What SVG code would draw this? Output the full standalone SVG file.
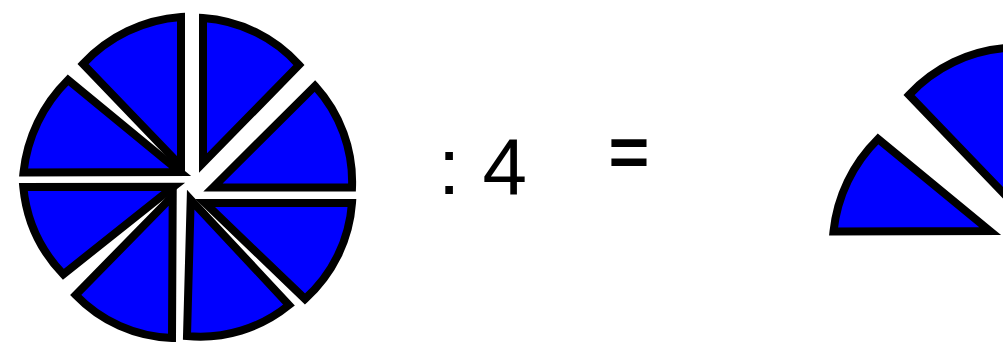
<svg xmlns="http://www.w3.org/2000/svg" width="1003" height="342" viewBox="0 0 1003 342">
<style>
.s{fill:#0000ff;stroke:#000;stroke-width:8;stroke-linejoin:miter;stroke-miterlimit:10}
.t{font-family:"Liberation Sans",Arial,sans-serif;fill:#000}
</style>
<rect width="1003" height="342" fill="#fff"/>
<g id="circle">
<path class="s" d="M181,166 L181,17 A148,148 0 0 0 83,64 Z"/>
<path class="s" d="M180,172 L68,80 A152,152 0 0 0 23.5,172.5 Z"/>
<path class="s" d="M203,163 L203,18 A142,142 0 0 1 299,65 Z"/>
<path class="s" d="M213,187.5 L315,86 A142,142 0 0 1 352,187.5 Z"/>
<path class="s" d="M205,203 L352,203 A143,143 0 0 1 305,299 Z"/>
<path class="s" d="M190.7,199.7 L289,305 A140,140 0 0 1 187,336 Z"/>
<path class="s" d="M172.7,196 L172,338 A140,140 0 0 1 75.7,295 Z"/>
<path class="s" d="M173.6,186.7 L63.3,274.3 A146,146 0 0 1 23.3,187 Z"/>
</g>
<g id="divide">
<text class="t" x="438" y="194" font-size="80">: 4</text>
</g>
<g id="equals">
<text class="t" x="629" y="176" font-size="70" font-weight="bold" text-anchor="middle">=</text>
</g>
<g id="result">
<path class="s" transform="translate(810,59)" d="M180,172 L68,80 A152,152 0 0 0 23.5,172.5 Z"/>
<path class="s" transform="translate(826,31)" d="M181,166 L181,17 A148,148 0 0 0 83,64 Z"/>
</g>
</svg>
